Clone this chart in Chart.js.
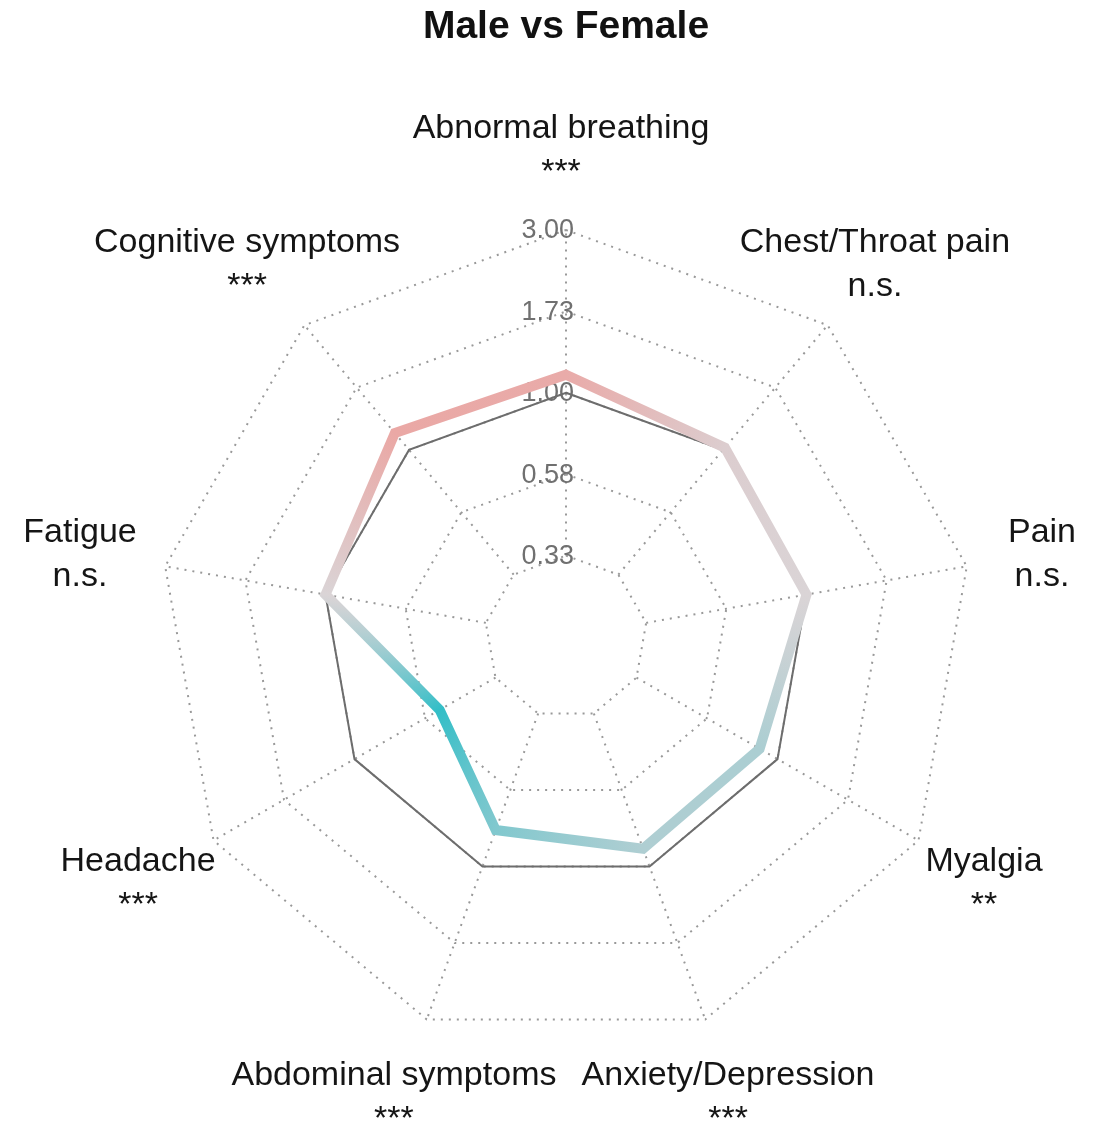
<!DOCTYPE html>
<html><head><meta charset="utf-8">
<script src="https://cdn.jsdelivr.net/npm/chart.js@4"></script>
<style>html,body{margin:0;padding:0;background:#fff;overflow:hidden}</style>
</head><body>
<canvas id="c" width="1097" height="1127"></canvas>
<script>
// ---- data ----
const categories = ['Abnormal breathing','Chest/Throat pain','Pain','Myalgia','Anxiety/Depression','Abdominal symptoms','Headache','Fatigue','Cognitive symptoms'];
const significance = ['***','n.s.','n.s.','**','***','***','***','n.s.','***'];
const ratioValues = [1.13, 1.02, 1.00, 0.87, 0.88, 0.77, 0.515, 1.00, 1.16];
const referenceValues = [1, 1, 1, 1, 1, 1, 1, 1, 1];
const tickLabels = ['0.33', '0.58', '1.00', '1.73', '3.00'];
const titleText = 'Male vs Female';

// log scale (base sqrt(3)) mapped onto the linear radial scale
const LOG_STEP = Math.log(Math.sqrt(3));
const LOG_MIN = Math.log(Math.pow(3, -1.5));
const toScale = v => (Math.log(v) - LOG_MIN) / LOG_STEP;

const FONT = '"Liberation Sans", Arial, Helvetica, sans-serif';

// diverging colour: teal (lower) - grey (1.00) - pink (higher)
const LOW = [50, 190, 199], MID = [218, 212, 214], HIGH = [234, 168, 165];
function colourFor(v) {
  const l = Math.log(v) / Math.log(3);
  let b, f;
  if (l < 0) { b = LOW; f = Math.min(1, -l / 0.45); }
  else { b = HIGH; f = Math.min(1, l / 0.12); }
  const c = MID.map((x, i) => Math.round(x + (b[i] - x) * f));
  return `rgb(${c[0]},${c[1]},${c[2]})`;
}
const vertexColours = ratioValues.map(colourFor);

function lineGradient(context) {
  const chart = context.chart, s = chart.scales && chart.scales.r;
  if (!s || !Number.isFinite(s.xCenter) || !Number.isFinite(s.yCenter) || !chart.ctx.createConicGradient) {
    return vertexColours[0];
  }
  const g = chart.ctx.createConicGradient(-Math.PI / 2, s.xCenter, s.yCenter);
  const n = vertexColours.length;
  vertexColours.forEach((c, i) => g.addColorStop(i / n, c));
  g.addColorStop(1, vertexColours[0]);
  return g;
}

const gridPlugin = {
  id: 'gridExtras',
  beforeDatasetsDraw(chart) {
    const s = chart.scales.r, ctx = chart.ctx;
    ctx.save();
    // spokes from the inner ring to the outer ring
    ctx.strokeStyle = '#999'; ctx.lineWidth = 2; ctx.setLineDash([2, 6]);
    for (let i = 0; i < categories.length; i++) {
      const p0 = s.getPointPosition(i, s.getDistanceFromCenterForValue(1));
      const p1 = s.getPointPosition(i, s.getDistanceFromCenterForValue(5));
      ctx.beginPath(); ctx.moveTo(p0.x, p0.y); ctx.lineTo(p1.x, p1.y); ctx.stroke();
    }
    ctx.setLineDash([]);
    // tick labels
    ctx.fillStyle = '#707070'; ctx.font = '27px ' + FONT;
    ctx.textAlign = 'right'; ctx.textBaseline = 'middle';
    tickLabels.forEach((t, k) => {
      const d = s.getDistanceFromCenterForValue(k + 1);
      ctx.fillText(t, s.xCenter + 8, s.yCenter - d + 1);
    });
    ctx.restore();
  },
  afterDraw(chart) {
    const s = chart.scales.r, ctx = chart.ctx;
    ctx.save();
    ctx.fillStyle = '#151515'; ctx.font = '34px ' + FONT;
    ctx.textAlign = 'center'; ctx.textBaseline = 'middle';
    categories.forEach((c, i) => {
      const p = s.getPointPosition(i, s.drawingArea * 1.2);
      ctx.fillText(c, p.x - 5, p.y - 20);
      ctx.fillText(significance[i], p.x - 5, p.y + 24);
    });
    ctx.restore();
  }
};

new Chart(document.getElementById('c'), {
  type: 'radar',
  data: {
    labels: categories,
    datasets: [
      {
        data: ratioValues.map(toScale),
        borderWidth: 10,
        borderColor: lineGradient,
        borderJoinStyle: 'miter',
        fill: false,
        pointRadius: 0
      },
      {
        data: referenceValues.map(toScale),
        borderWidth: 2,
        borderColor: '#6d6d6d',
        fill: false,
        pointRadius: 0
      }
    ]
  },
  options: {
    responsive: false,
    animation: false,
    devicePixelRatio: 1,
    layout: { padding: { left: 159, right: 124, top: 0, bottom: 83 } },
    plugins: {
      legend: { display: false },
      tooltip: { enabled: false },
      title: {
        display: true, text: titleText, color: '#111',
        font: { family: FONT, size: 39, weight: 'bold', lineHeight: 1.2 },
        padding: { top: 4, bottom: 230 - 4 - 39 * 1.2 }
      }
    },
    elements: { line: { tension: 0 }, point: { radius: 0 } },
    scales: {
      r: {
        min: 0, max: 5,
        ticks: { stepSize: 1, display: false },
        grid: { color: '#999', lineWidth: 2, circular: false },
        border: { dash: [2, 6] },
        angleLines: { display: false },
        pointLabels: { display: false }
      }
    }
  },
  plugins: [gridPlugin]
});
</script>
</body></html>
